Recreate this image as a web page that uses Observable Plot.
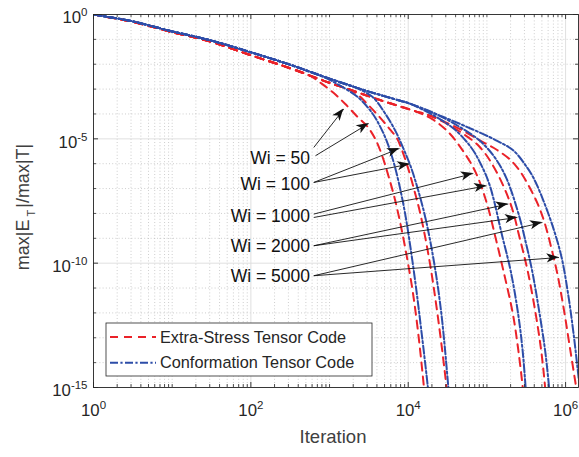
<!DOCTYPE html>
<html>
<head>
<meta charset="utf-8">
<script src="https://cdn.jsdelivr.net/npm/d3@7"></script>
<script src="https://cdn.jsdelivr.net/npm/@observablehq/plot@0.6"></script>
<style>
  html, body { margin: 0; padding: 0; background: #fff; }
  #chart { width: 579px; height: 457px; }
</style>
</head>
<body>
<div id="chart"></div>
<script>
// ---------------- data ----------------
const seriesNames = ["Extra-Stress Tensor Code", "Conformation Tensor Code"];
const wiValues = ["50", "100", "1000", "2000", "5000"];
const wiLabels = ["Wi = 50", "Wi = 100", "Wi = 1000", "Wi = 2000", "Wi = 5000"];

// [iteration, max|E_T|/max|T|]
// Conformation tensor code (blue)
const blueEarly = [[1, 1], [3.16, 0.525], [10, 0.209], [31.6, 0.0891], [100, 0.0302], [316, 0.00955], [562, 0.00501]];
const blue50Tail = [[891, 2.82e-3], [1380, 1.35e-3], [2344, 4.47e-4], [3548, 1.0e-4], [4467, 2.82e-5], [5495, 6.31e-6], [6607, 1.0e-6], [7762, 1.26e-7], [9120, 1.0e-8], [10715, 3.98e-10], [12589, 1.0e-11], [14791, 1.58e-13], [17783, 1e-15], [19055, 1e-16]];
const blueMid = [[1000, 2.63e-3], [1995, 1.26e-3]];
const blue100Tail = [[3467, 5.01e-4], [5012, 1.12e-4], [6918, 2.0e-5], [8710, 3.98e-6], [10715, 7.94e-7], [13183, 1e-7], [16596, 6.31e-9], [21380, 1e-10], [26303, 1e-12], [32359, 1e-15], [34674, 6.31e-17]];
const blueLate = [[3162, 7.94e-4], [7943, 3.39e-4], [10000, 2.75e-4]];
const blue1000Tail = [[15849, 1.41e-4], [25119, 6.31e-5], [39811, 2.24e-5], [63096, 4.47e-6], [83176, 1e-6], [108143, 1.41e-7], [158489, 1.05e-9], [200447, 4.9e-11], [249459, 9.12e-13], [284446, 3.02e-14], [310456, 1e-15], [323594, 1.58e-16]];
const blueLatest = [[22387, 1e-4]];
const blue2000Tail = [[39811, 3.8e-5], [79433, 8.91e-6], [125893, 1.78e-6], [177828, 2.51e-7], [260615, 6.76e-9], [301995, 1.05e-9], [375837, 4.9e-11], [467735, 9.12e-13], [549541, 3.02e-14], [616595, 1e-15], [645654, 1.58e-16]];
const blue5000Tail = [[51286, 3.39e-5], [134896, 8.32e-6], [218776, 3.31e-6], [323594, 7.08e-7], [398107, 2.4e-7], [524807, 3.16e-8], [707946, 2.24e-9], [891251, 1.66e-10], [1071519, 6.31e-12], [1258925, 1.58e-13], [1513561, 1e-15], [1659587, 1e-16]];

// Extra-stress tensor code (red)
const redEarly = [[1, 1], [3.16, 0.505], [10, 0.196], [31.6, 0.0794], [100, 0.0229], [316, 0.0069], [562, 0.0035]];
const red50Tail = [[794, 1.66e-3], [1122, 7.08e-4], [1585, 2.51e-4], [2239, 7.94e-5], [3020, 3.16e-5], [3802, 1e-5], [4571, 2.51e-6], [5495, 3.98e-7], [6607, 5.01e-8], [7943, 3.98e-9], [9550, 2.0e-10], [11482, 6.31e-12], [13490, 1.26e-13], [15849, 1e-15], [16982, 1e-16]];
const redMid = [[1000, 1.78e-3], [1585, 1.1e-3]];
const red100Tail = [[2138, 7.08e-4], [3020, 2.51e-4], [4169, 8.51e-5], [5623, 2.82e-5], [7244, 1e-5], [8318, 3.55e-6], [10000, 6.31e-7], [12023, 7.94e-8], [14454, 7.94e-9], [18621, 1.26e-10], [23442, 1e-12], [30690, 1e-15], [33113, 6.31e-17]];
const redLate = [[4467, 3.55e-4], [11749, 1.35e-4]];
const red1000Tail = [[19953, 6.31e-5], [31623, 2.0e-5], [50119, 3.16e-6], [72444, 4.27e-7], [100000, 2.51e-8], [128825, 1.05e-9], [162181, 4.9e-11], [213796, 9.12e-13], [251189, 3.02e-14], [285102, 1e-15], [295121, 2.51e-16]];
const redLatest = [[19055, 8.51e-5]];
const red2000Tail = [[39811, 2.51e-5], [79433, 5.01e-6], [125893, 6.31e-7], [199526, 2.45e-8], [260615, 1.05e-9], [329610, 4.9e-11], [416869, 9.12e-13], [489779, 3.02e-14], [549541, 1e-15], [575440, 1.58e-16]];
const red5000Tail = [[41687, 2.82e-5], [83176, 8.32e-6], [134896, 3.55e-6], [199526, 1.41e-6], [263027, 5.01e-7], [354813, 1e-7], [446684, 2.24e-8], [537032, 4.57e-9], [660693, 3.98e-10], [794328, 3.16e-11], [954993, 1.26e-12], [1148154, 3.16e-14], [1380384, 7.94e-16], [1479108, 2e-16]];

const blueCurves = [
  blueEarly.concat(blue50Tail),
  blueEarly.concat(blueMid, blue100Tail),
  blueEarly.concat(blueMid, blueLate, blue1000Tail),
  blueEarly.concat(blueMid, blueLate, blueLatest, blue2000Tail),
  blueEarly.concat(blueMid, blueLate, blueLatest, blue5000Tail)
];
const redCurves = [
  redEarly.concat(red50Tail),
  redEarly.concat(redMid, red100Tail),
  redEarly.concat(redMid, redLate, red1000Tail),
  redEarly.concat(redMid, redLate, redLatest, red2000Tail),
  redEarly.concat(redMid, redLate, redLatest, red5000Tail)
];

// ticks
const xTickValues = [1, 1e2, 1e4, 1e6];
const xTickExponents = ["0", "2", "4", "6"];
const yTickValues = [1, 1e-5, 1e-10, 1e-15];
const yTickExponents = ["0", "-5", "-10", "-15"];
const xDecades = [1, 10, 100, 1e3, 1e4, 1e5, 1e6];
const yDecades = [1, 1e-1, 1e-2, 1e-3, 1e-4, 1e-5, 1e-6, 1e-7, 1e-8, 1e-9, 1e-10, 1e-11, 1e-12, 1e-13, 1e-14, 1e-15];
const minorMultipliers = [2, 3, 4, 5, 6, 7, 8, 9];

// annotation (label + arrows) anchors in data coordinates
const labelX = [564, 564, 564, 564, 564];
const labelY = [1.65e-6, 1.42e-7, 7.34e-9, 4.87e-10, 2.89e-11];
const arrowLabel = [0, 0, 1, 1, 2, 2, 3, 3, 4, 4];
const arrowStartX = [630, 662, 630, 630, 630, 630, 630, 630, 630, 630];
const arrowStartY = [4.49e-6, 2.09e-6, 1.76e-7, 1.76e-7, 9.42e-9, 6.88e-9, 5.01e-10, 5.01e-10, 3.12e-11, 3.12e-11];
const arrowTipX = [1517, 3155, 7745, 10470, 67140, 99100, 187100, 243800, 507000, 824000];
const arrowTipY = [1.57e-4, 4.14e-5, 4.09e-6, 9.66e-7, 4.04e-7, 1.29e-7, 2.38e-8, 6.88e-9, 4.33e-9, 1.69e-10];

// ---------------- build tables ----------------
const X_MAX = 1.459e6;
const rows = [];
redCurves.forEach((c, i) => c.forEach(([x, y]) => rows.push({code: seriesNames[0], wi: wiValues[i], x, y})));
blueCurves.forEach((c, i) => c.forEach(([x, y]) => rows.push({code: seriesNames[1], wi: wiValues[i], x, y})));
const redRows = rows.filter(d => d.code === seriesNames[0]);
const blueRows = rows.filter(d => d.code === seriesNames[1]);

const xMinor = [];
xDecades.forEach(d => minorMultipliers.forEach(m => { if (d * m <= X_MAX) xMinor.push(d * m); }));
const xMinorAll = xMinor.concat(xDecades.filter(d => !xTickValues.includes(d)));
const yMinor = yDecades.filter(d => !yTickValues.includes(d));

const arrows = arrowStartX.map((_, i) => ({
  x1: arrowStartX[i], y1: arrowStartY[i], x2: arrowTipX[i], y2: arrowTipY[i], label: wiLabels[arrowLabel[i]]
}));
const labels = wiLabels.map((t, i) => ({text: t, x: labelX[i], y: labelY[i]}));

// ---------------- styles ----------------
const RED = "#ea2229";
const BLUE = "#2d4da8";
const RED_DASH = "8,6";
const BLUE_DASH = "8,2.4,2.2,2.4";
const W = 579, H = 457;
const mL = 93, mR = 1, mT = 14, mB = 70;
const FW = W - mL - mR, FH = H - mT - mB;
const AXIS = "#262626";
const FONT = "'Liberation Sans', Arial, Helvetica, sans-serif";

const ns = "http://www.w3.org/2000/svg";

function arrowHeads(index, scales) {
  const g = document.createElementNS(ns, "g");
  const sx = scales.x, sy = scales.y;
  arrows.forEach(a => {
    const x1 = sx(a.x1), y1 = sy(a.y1), x2 = sx(a.x2), y2 = sy(a.y2);
    const dx = x2 - x1, dy = y2 - y1, len = Math.hypot(dx, dy);
    const ux = dx / len, uy = dy / len, nx = -uy, ny = ux;
    const L = 12, w = 4.6, notch = 3.2;
    const pts = [
      [x2, y2],
      [x2 - L * ux + w * nx, y2 - L * uy + w * ny],
      [x2 - (L - notch) * ux, y2 - (L - notch) * uy],
      [x2 - L * ux - w * nx, y2 - L * uy - w * ny]
    ];
    const p = document.createElementNS(ns, "path");
    p.setAttribute("d", "M" + pts.map(q => q[0].toFixed(2) + "," + q[1].toFixed(2)).join("L") + "Z");
    p.setAttribute("fill", "#111");
    p.setAttribute("stroke", "none");
    g.appendChild(p);
  });
  return g;
}

function legend(index, scales, values, dims) {
  const g = document.createElementNS(ns, "g");
  g.setAttribute("text-anchor", "start");
  const bx = dims.marginLeft + 13, by = dims.height - dims.marginBottom - 64;
  const bw = 266, bh = 53;
  const r = document.createElementNS(ns, "rect");
  r.setAttribute("x", bx); r.setAttribute("y", by);
  r.setAttribute("width", bw); r.setAttribute("height", bh);
  r.setAttribute("fill", "#fff"); r.setAttribute("stroke", AXIS); r.setAttribute("stroke-width", 0.8);
  g.appendChild(r);
  const entries = [[seriesNames[0], RED, RED_DASH, 14], [seriesNames[1], BLUE, BLUE_DASH, 39.7]];
  entries.forEach(([name, color, dash, oy]) => {
    const l = document.createElementNS(ns, "line");
    l.setAttribute("x1", bx + 4); l.setAttribute("x2", bx + 50);
    l.setAttribute("y1", by + oy); l.setAttribute("y2", by + oy);
    l.setAttribute("stroke", color); l.setAttribute("stroke-width", 2);
    l.setAttribute("stroke-dasharray", dash);
    g.appendChild(l);
    const t = document.createElementNS(ns, "text");
    t.setAttribute("x", bx + 54); t.setAttribute("y", by + oy);
    t.setAttribute("dy", "0.35em");
    t.setAttribute("text-anchor", "start");
    t.setAttribute("font-size", 16.3);
    t.setAttribute("fill", AXIS);
    t.textContent = name;
    g.appendChild(t);
  });
  return g;
}

const chart = Plot.plot({
  width: W,
  height: H,
  marginLeft: mL, marginRight: mR, marginTop: mT, marginBottom: mB,
  style: {fontFamily: FONT, background: "#fff", overflow: "visible"},
  x: {type: "log", domain: [1, X_MAX], axis: null},
  y: {type: "log", domain: [1e-15, 1], axis: null},
  marks: [
    // grid
    Plot.ruleX(xMinorAll, {stroke: "#b9b9b9", strokeWidth: 0.7, strokeDasharray: "1,2.2"}),
    Plot.ruleY(yMinor, {stroke: "#b9b9b9", strokeWidth: 0.7, strokeDasharray: "1,2.2"}),
    Plot.ruleX(xTickValues, {stroke: "#dcdcdc", strokeWidth: 0.9}),
    Plot.ruleY(yTickValues, {stroke: "#dcdcdc", strokeWidth: 0.9}),
    // data
    Plot.line(redRows, {x: "x", y: "y", z: "wi", stroke: RED, strokeWidth: 2, strokeDasharray: RED_DASH, curve: "catmull-rom", clip: true}),
    Plot.line(blueRows, {x: "x", y: "y", z: "wi", stroke: BLUE, strokeWidth: 2, strokeDasharray: BLUE_DASH, curve: "catmull-rom", clip: true}),
    // frame + ticks
    Plot.frame({stroke: AXIS, strokeWidth: 0.9}),
    Plot.ruleX(xTickValues, {stroke: AXIS, strokeWidth: 0.9, insetTop: FH - 5}),
    Plot.ruleX(xTickValues, {stroke: AXIS, strokeWidth: 0.9, insetBottom: FH - 5}),
    Plot.ruleX(xMinorAll, {stroke: AXIS, strokeWidth: 0.8, insetTop: FH - 3}),
    Plot.ruleX(xMinorAll, {stroke: AXIS, strokeWidth: 0.8, insetBottom: FH - 3}),
    Plot.ruleY(yTickValues, {stroke: AXIS, strokeWidth: 0.9, insetRight: FW - 5}),
    Plot.ruleY(yTickValues, {stroke: AXIS, strokeWidth: 0.9, insetLeft: FW - 5}),
    Plot.ruleY(yMinor, {stroke: AXIS, strokeWidth: 0.8, insetRight: FW - 3}),
    Plot.ruleY(yMinor, {stroke: AXIS, strokeWidth: 0.8, insetLeft: FW - 3}),
    // tick labels
    Plot.text(xTickValues, {x: d => d, text: (d, i) => "10^" + xTickExponents[i], frameAnchor: "bottom", dy: 28, fontSize: 16.8, fill: AXIS, textAnchor: "middle"}),
    Plot.text(yTickValues, {y: d => d, text: (d, i) => "10^" + yTickExponents[i], frameAnchor: "left", dx: -6, dy: 3.5, fontSize: 16.8, fill: AXIS, textAnchor: "end"}),
    // axis titles
    Plot.text(["Iteration"], {text: d => d, frameAnchor: "bottom", dx: -3, dy: 55, fontSize: 18.5, fill: "#404040", textAnchor: "middle"}),
    Plot.text(["max|E_T|/max|T|"], {text: d => d, frameAnchor: "left", dx: -70, dy: 6, rotate: -90, fontSize: 18, fill: "#404040", textAnchor: "middle"}),
    // annotations
    Plot.link(arrows, {x1: "x1", y1: "y1", x2: "x2", y2: "y2", stroke: "#111", strokeWidth: 0.9}),
    arrowHeads,
    Plot.text(labels, {x: "x", y: "y", text: "text", textAnchor: "end", fontSize: 17.5, fill: "#111"}),
    legend
  ]
});

// render superscripts / subscripts as real tspans
chart.querySelectorAll("text").forEach(t => {
  const s = t.textContent;
  const m = s.match(/^10\^(.+)$/);
  if (m) {
    t.textContent = "10";
    const ts = document.createElementNS(ns, "tspan");
    ts.setAttribute("dy", "-7");
    ts.setAttribute("font-size", "11.5");
    ts.textContent = m[1];
    t.appendChild(ts);
  } else if (s === "max|E_T|/max|T|") {
    t.textContent = "max|E";
    const sub = document.createElementNS(ns, "tspan");
    sub.setAttribute("dx", "3"); sub.setAttribute("dy", "6");
    sub.setAttribute("font-size", "11");
    sub.textContent = "T";
    const rest = document.createElementNS(ns, "tspan");
    rest.setAttribute("dx", "2"); rest.setAttribute("dy", "-6");
    rest.textContent = "|/max|T|";
    t.appendChild(sub); t.appendChild(rest);
  }
});

document.getElementById("chart").appendChild(chart);
</script>
</body>
</html>
